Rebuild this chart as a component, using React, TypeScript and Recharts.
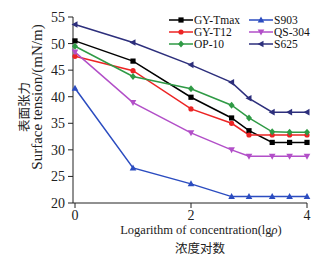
import { LineChart, Line, XAxis, YAxis, Label } from "recharts";

const lgConc = [0, 1, 2, 2.7, 3, 3.4, 3.7, 4];
const gyTmax = [50.5, 46.7, 39.9, 36.0, 33.6, 31.4, 31.4, 31.4];
const gyT12 = [47.6, 44.9, 37.7, 35.0, 32.8, 32.8, 32.8, 32.8];
const op10 = [49.5, 43.8, 41.5, 38.4, 36.0, 33.4, 33.3, 33.3];
const s903 = [41.6, 26.6, 23.6, 21.2, 21.2, 21.2, 21.2, 21.2];
const qs304 = [48.4, 38.9, 33.2, 30.0, 28.8, 28.8, 28.8, 28.8];
const s625 = [53.6, 50.2, 46.0, 42.7, 39.7, 37.1, 37.1, 37.1];
const xTicks = [0, 2, 4];
const yTicks = [20, 25, 30, 35, 40, 45, 50, 55];

const data = lgConc.map((x, i) => ({
  x,
  gyTmax: gyTmax[i],
  gyT12: gyT12[i],
  op10: op10[i],
  s903: s903[i],
  qs304: qs304[i],
  s625: s625[i],
}));

type Shape = "square" | "circle" | "diamond" | "up" | "down" | "left";

const series: { key: string; name: string; color: string; shape: Shape }[] = [
  { key: "gyTmax", name: "GY-Tmax", color: "#000000", shape: "square" },
  { key: "s903", name: "S903", color: "#2b4cc0", shape: "up" },
  { key: "gyT12", name: "GY-T12", color: "#ec2424", shape: "circle" },
  { key: "qs304", name: "QS-304", color: "#b24fc8", shape: "down" },
  { key: "op10", name: "OP-10", color: "#2f9a45", shape: "diamond" },
  { key: "s625", name: "S625", color: "#2d2f7c", shape: "left" },
];

const font = "'Liberation Serif', 'Times New Roman', serif";
const cjk = "'Noto Sans CJK SC', sans-serif";

const marker = (shape: Shape, cx: number, cy: number, color: string, key?: any) => {
  const r = 2.6;
  switch (shape) {
    case "square":
      return <rect key={key} x={cx - r} y={cy - r} width={r * 2} height={r * 2} fill={color} />;
    case "circle":
      return <circle key={key} cx={cx} cy={cy} r={r} fill={color} />;
    case "diamond":
      return <path key={key} d={`M${cx},${cy - 3.5}L${cx + 3},${cy}L${cx},${cy + 3.5}L${cx - 3},${cy}Z`} fill={color} />;
    case "up":
      return <path key={key} d={`M${cx},${cy - 3.5}L${cx + 3.3},${cy + 2.5}L${cx - 3.3},${cy + 2.5}Z`} fill={color} />;
    case "down":
      return <path key={key} d={`M${cx},${cy + 3.5}L${cx + 3.3},${cy - 2.5}L${cx - 3.3},${cy - 2.5}Z`} fill={color} />;
    default:
      return <path key={key} d={`M${cx - 3.5},${cy}L${cx + 2.5},${cy - 3.3}L${cx + 2.5},${cy + 3.3}Z`} fill={color} />;
  }
};

const LegendBox = () => (
  <div
    style={{
      position: "absolute",
      left: 169,
      top: 14,
      display: "grid",
      gridTemplateColumns: "80px 80px",
      fontFamily: font,
      fontSize: 11.5,
      lineHeight: "12px",
    }}
  >
    {series.map((s) => (
      <div key={s.key} style={{ display: "flex", alignItems: "center", height: 12, whiteSpace: "nowrap" }}>
        <svg width={25} height={12} style={{ flexShrink: 0 }}>
          <line x1={0} y1={6} x2={24} y2={6} stroke={s.color} strokeWidth={1.5} />
          {marker(s.shape, 12, 6, s.color)}
        </svg>
        <span style={{ color: "#111" }}>{s.name}</span>
      </div>
    ))}
  </div>
);

export default function App() {
  return (
    <div style={{ position: "absolute", left: 0, top: 0, width: 328, height: 259, background: "#fff" }}>
      <LineChart width={328} height={259} data={data} margin={{ top: 17, right: 21, left: 0, bottom: 0 }}>
        <XAxis
          dataKey="x"
          type="number"
          domain={[0, 4]}
          ticks={xTicks}
          padding={{ left: 2, right: 0 }}
          tickSize={5}
          tickMargin={2}
          height={56}
          stroke="#222"
          tick={{ fill: "#222", fontFamily: font, fontSize: 14 }}
        >
          <Label
            content={() => (
              <g>
                <text x={201} y={234} textAnchor="middle" fontFamily={font} fontSize={12.5} fill="#222">
                  Logarithm of concentration(lg<tspan fontStyle="italic">ρ</tspan>)
                </text>
                <text x={200} y={252.5} textAnchor="middle" fontFamily={cjk} fontSize={12.5} fill="#222">
                  浓度对数
                </text>
              </g>
            )}
          />
        </XAxis>
        <YAxis
          type="number"
          domain={[20, 55]}
          ticks={yTicks}
          width={73}
          tickSize={5}
          tickMargin={3}
          stroke="#222"
          tick={{ fill: "#222", fontFamily: font, fontSize: 14 }}
        >
          <Label
            content={() => (
              <g>
                <text
                  x={29}
                  y={107}
                  transform="rotate(-90 29 107)"
                  textAnchor="middle"
                  fontFamily={cjk}
                  fontSize={12.5}
                  fill="#222"
                >
                  表面张力
                </text>
                <text
                  x={42}
                  y={97}
                  transform="rotate(-90 42 97)"
                  textAnchor="middle"
                  fontFamily={font}
                  fontSize={15}
                  fill="#222"
                >
                  Surface tension/(mN/m)
                </text>
              </g>
            )}
          />
        </YAxis>
        {series.map((s) => (
          <Line
            key={s.key}
            dataKey={s.key}
            name={s.name}
            stroke={s.color}
            strokeWidth={1.5}
            isAnimationActive={false}
            dot={(p: any) => marker(s.shape, p.cx, p.cy, s.color, p.index)}
            activeDot={false}
          />
        ))}
      </LineChart>
      <LegendBox />
    </div>
  );
}
